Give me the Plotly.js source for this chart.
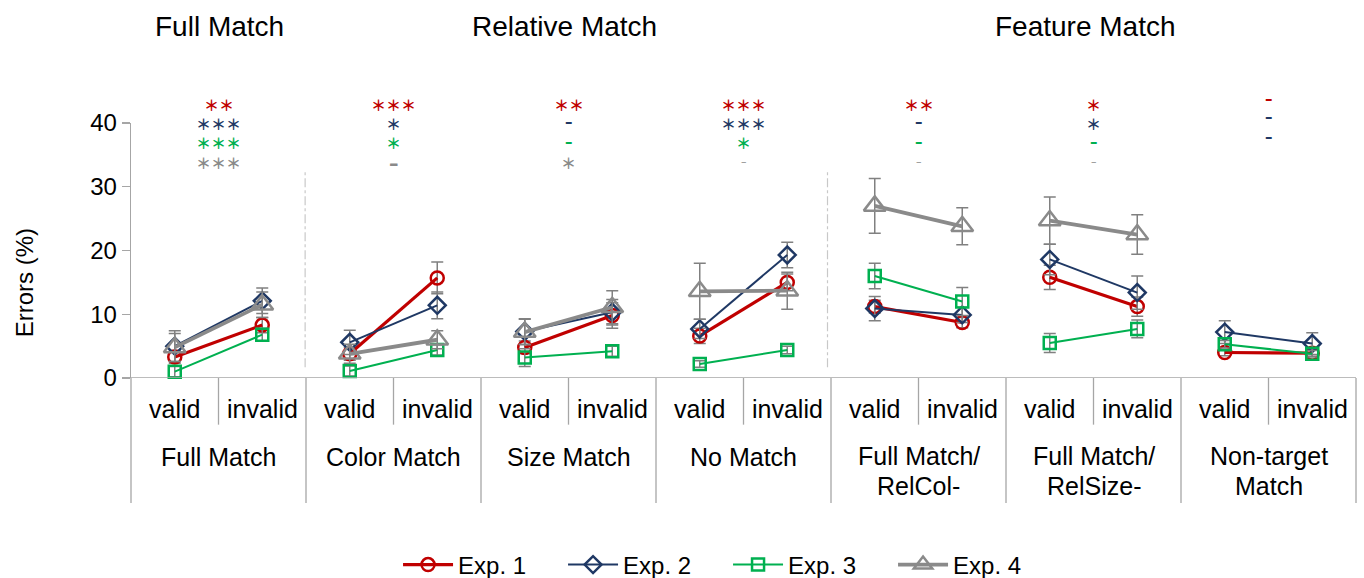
<!DOCTYPE html>
<html><head><meta charset="utf-8">
<script src="https://cdn.plot.ly/plotly-3.0.1.min.js"></script>
<style>html,body{margin:0;padding:0;background:#fff;}#chart{width:1364px;height:578px;}</style>
</head><body><div id="chart"></div>
<script>
// ---- data ----
const groups = ["Full Match","Color Match","Size Match","No Match","Full Match/<br>RelCol-","Full Match/<br>RelSize-","Non-target<br>Match"];
const conditions = ["valid","invalid"];
const superGroups = ["Full Match","Relative Match","Feature Match"];
const seriesNames = ["Exp. 1","Exp. 2","Exp. 3","Exp. 4"];

// errors (%) per group: valid, invalid
const exp1 = [3.3, 8.3,  3.8, 15.7,  4.8, 9.8,  6.6, 15.0,  11.2, 8.7,  15.8, 11.2,  4.0, 3.9];
const exp2 = [5.0, 12.1, 5.6, 11.4,  7.3, 10.3, 7.7, 19.3,  10.9, 9.9,  18.6, 13.4,  7.2, 5.4];
const exp3 = [1.0, 6.8,  1.1, 4.4,   3.2, 4.2,  2.2, 4.4,   16.0, 12.0, 5.5, 7.7,    5.3, 3.8];
const exp4 = [4.8, 11.5, 3.8, 6.0,   7.2, 11.1, 13.6, 13.7, 27.0, 23.8, 24.7, 22.5,  null, null];

// error bar half-lengths
const err1 = [1.0, 1.2,  1.0, 2.5,  1.0, 2.0,  1.2, 1.3,  1.0, 0.8,  1.9, 1.5,  0.5, 0.5];
const err2 = [2.4, 2.0,  1.9, 2.1,  2.0, 2.0,  1.5, 2.0,  1.9, 1.2,  2.4, 2.6,  1.8, 1.7];
const err3 = [0.8, 1.0,  0.8, 0.8,  1.4, 0.8,  0.5, 0.6,  2.0, 2.2,  1.5, 1.4,  0.6, 0.5];
const err4 = [2.2, 2.0,  1.5, 1.4,  2.0, 2.6,  4.4, 2.9,  4.3, 2.9,  3.7, 3.1,  null, null];

// significance marks per group
const sig1 = ["**","***","**","***","**","*","-"];
const sig2 = ["***","*","-","***","-","*","-"];
const sig3 = ["***","*","-","*","-","-","-"];
const sig4 = ["***","–","*","-","-","-",""];

// ---- styles ----
const colors = ["#C00000","#1F3864","#00B050","#8A8A8A"];
const sig3Colors = ["#00B050","#00B050","#00B050","#00B050","#00B050","#00B050","#1F3864"];
const symbols = ["circle-open","diamond-open","square-open","triangle-up-open"];
const msizes = [13, 13, 12, 19];
const lwidths = [3.2, 2, 2, 3.8];
const FONT = "Liberation Sans, Arial, sans-serif";
const SIGFONT = "DejaVu Sans, sans-serif";
const STARFONT = "Noto Sans CJK JP, DejaVu Sans, sans-serif";
const gridColor = "#A6A6A6";

const values = [exp1, exp2, exp3, exp4];
const errs = [err1, err2, err3, err4];

const traces = values.map((vals, s) => {
  const x = [], y = [], e = [];
  groups.forEach((g, gi) => {
    conditions.forEach((c, ci) => {
      const i = gi * conditions.length + ci;
      x.push(i); y.push(vals[i]); e.push(errs[s][i]);
    });
    x.push(null); y.push(null); e.push(null);
  });
  return {
    type: "scatter", mode: "lines+markers", name: seriesNames[s],
    x: x, y: y, connectgaps: false, cliponaxis: false,
    line: {color: colors[s], width: lwidths[s]},
    marker: {symbol: symbols[s], size: msizes[s], color: colors[s], line: {width: 2.5, color: colors[s]}},
    error_y: {type: "data", array: e, visible: true, color: "#808080", thickness: 1.5, width: 6}
  };
});

const nG = groups.length, nC = conditions.length;
const YMAX = 40;
const shapes = [];
const TB = -0.49, MB = -0.183;
// axis baseline and table
shapes.push({type:"line", xref:"paper", yref:"y", x0:0, x1:1, y0:0, y1:0, line:{color:gridColor, width:1.3}});
shapes.push({type:"line", xref:"paper", yref:"paper", x0:0, x1:0, y0:TB, y1:0, line:{color:gridColor, width:1.3}});
shapes.push({type:"line", xref:"paper", yref:"paper", x0:1, x1:1, y0:TB, y1:0, line:{color:gridColor, width:1.3}});
for (let g = 1; g < nG; g++) {
  shapes.push({type:"line", xref:"x", yref:"paper", x0:g*nC-0.5, x1:g*nC-0.5, y0:TB, y1:0, line:{color:gridColor, width:1.3}});
}
for (let g = 0; g < nG; g++) {
  shapes.push({type:"line", xref:"x", yref:"paper", x0:g*nC+0.5, x1:g*nC+0.5, y0:MB, y1:0, line:{color:gridColor, width:1.3}});
}
// dash-dot separators between super groups
[1.49, 7.46].forEach(xv => shapes.push({type:"line", xref:"x", yref:"y", x0:xv, x1:xv, y0:1.7, y1:32.3, line:{color:"#C8C8C8", width:1.2, dash:"dashdot"}}));

const ann = [];
const C = {xanchor:"center", yanchor:"middle", showarrow:false};
// condition labels
groups.forEach((g, gi) => {
  conditions.forEach((c, ci) => {
    ann.push(Object.assign({xref:"x", yref:"paper", x: gi*nC+ci, y:-0.1206, text:c, font:{family:FONT, size:25, color:"#000"}}, C));
  });
  const parts = g.split("<br>");
  const ys = parts.length > 1 ? [-0.306, -0.4235] : [-0.309];
  parts.forEach((p, k) => ann.push(Object.assign({xref:"x", yref:"paper", x: gi*nC+0.5, y: ys[k], text:p, font:{family:FONT, size:25, color:"#000"}}, C)));
});
// super-group titles
const superX = [0.515, 4.45, 10.41];
superGroups.forEach((t, i) => ann.push(Object.assign({xref:"x", yref:"paper", x:superX[i], y:1.38, text:t, font:{family:FONT, size:28, color:"#000"}}, C)));
// y title
ann.push(Object.assign({xref:"paper", yref:"paper", x:-0.0873, y:0.3716, text:"Errors (%)", textangle:-90, font:{family:FONT, size:24, color:"#000"}}, C));

// significance marks (row centres in axis units, placed as paper fractions)
const rowY = [42.9, 40.0, 36.9, 33.8];
const sigs = [sig1, sig2, sig3, sig4];
sigs.forEach((row, r) => {
  row.forEach((t, gi) => {
    if (!t) return;
    const col = r === 2 ? sig3Colors[gi] : colors[r];
    let txt, fam, size, ys;
    if (t === "-") {
      txt = r === 3 ? "–" : "<b>–</b>"; fam = SIGFONT; size = r === 3 ? 11 : 15; ys = 1;
    } else if (t === "–") {
      txt = "<b>–</b>"; fam = SIGFONT; size = 19; ys = 0;
    } else {
      txt = "<b>" + t.replace(/\*/g, "＊") + "</b>"; fam = STARFONT; size = 15; ys = 0;
    }
    const yv = rowY[r] + (gi === nG - 1 ? 0.75 : 0);
    ann.push(Object.assign({xref:"x", yref:"paper", x: gi*nC+0.5, y: yv / YMAX, yshift: ys, text: txt, font:{family:fam, size:size, color:col}}, C));
  });
});

const layout = {
  width: 1364, height: 578,
  margin: {l:131, r:8, t:123, b:200, pad:0},
  paper_bgcolor: "#fff", plot_bgcolor: "#fff",
  font: {family: FONT, size: 24, color: "#000"},
  xaxis: {range:[-0.5, nG*nC-0.5], showticklabels:false, showgrid:false, zeroline:false, showline:false, ticks:""},
  yaxis: {range:[0,YMAX], tickvals:[0,10,20,30,40], ticks:"outside", ticklen:8, tickcolor:gridColor, tickwidth:1.3,
          showline:true, linecolor:gridColor, linewidth:1.3, showgrid:false, zeroline:false,
          tickfont:{family:FONT, size:24, color:"#000"}},
  showlegend: true,
  legend: {orientation:"h", xref:"paper", x:0.218, xanchor:"left", yref:"container", y:0.0225, yanchor:"middle",
           font:{family:FONT, size:24, color:"#000"},
           entrywidth:100, entrywidthmode:"pixels", itemwidth:50, bgcolor:"rgba(0,0,0,0)"},
  shapes: shapes, annotations: ann
};

Plotly.newPlot("chart", traces, layout, {displayModeBar:false, staticPlot:true});
</script></body></html>
